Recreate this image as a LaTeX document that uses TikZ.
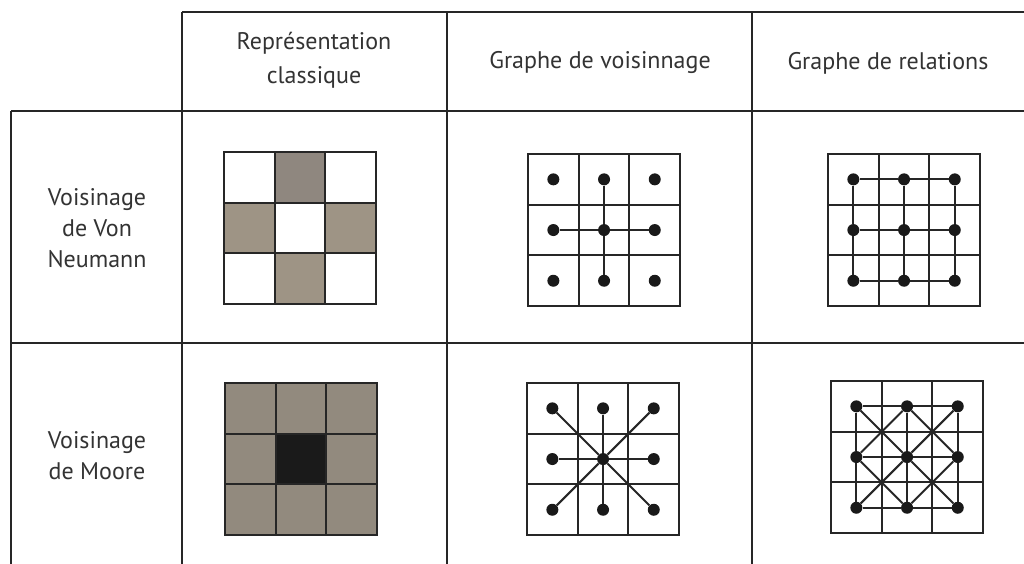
\documentclass[tikz,border=0pt]{standalone}
\usepackage{fontspec}
\setmainfont{PT Sans}
\usepackage{xcolor}
\definecolor{cellgray}{HTML}{9E9485}
\definecolor{cellgraydark}{HTML}{8F877F}
\definecolor{mooregray}{HTML}{928A7E}
\definecolor{centerblack}{HTML}{1A1A1A}
\usepackage{tikz}
\usetikzlibrary{positioning}

\begin{document}
\begin{tikzpicture}[
  x=1pt,y=-1pt,
  tbl/.style={line width=2pt,black!85},
  cellline/.style={line width=2pt,black!85},
  dot/.style={circle,fill=black!90,inner sep=0pt,minimum size=12pt},
  link/.style={line width=2pt,black!85},
  lbl/.style={font=\fontsize{24}{31}\selectfont,align=center,text=black!80},
  hlbl/.style={lbl,font=\fontsize{24}{34}\selectfont},
]
\useasboundingbox[fill=white] (0,0) rectangle (1024,564);

% table
\draw[tbl] (182,12) -- (1024,12);
\draw[tbl] (11,111) -- (1024,111);
\draw[tbl] (11,343) -- (1024,343);
\draw[tbl] (11,111) -- (11,564);
\draw[tbl] (182,12) -- (182,564);
\draw[tbl] (447,12) -- (447,564);
\draw[tbl] (752,12) -- (752,564);

% headers
\node[hlbl] (hclass) at (314,60) {Représentation\\classique};
\node[hlbl] (hvois) at (600,63) {Graphe de voisinnage};
\node[hlbl] (hrel) at (888,63) {Graphe de relations};
\node[lbl] (rvn) at (97,228) {Voisinage\\de Von\\Neumann};
\node[lbl] (rmoore) at (97,456) {Voisinage\\de Moore};

% classique, Von Neumann
\begin{scope}[shift={(224,152)},x=50.7pt,y=-50.7pt]
  \foreach \i in {0,1,2}{
    \foreach \j in {0,1,2}{
      \draw[cellline,fill=white] (\i,\j) rectangle ++(1,1);
    }
  }
  \draw[cellline,fill=cellgraydark] (1,0) rectangle ++(1,1);
  \foreach \i/\j in {0/1,2/1,1/2}{
    \draw[cellline,fill=cellgray] (\i,\j) rectangle ++(1,1);
  }
\end{scope}

% voisinage, Von Neumann
\begin{scope}[shift={(528,154)},x=50.7pt,y=-50.7pt]
  \foreach \i in {0,1,2}{
    \foreach \j in {0,1,2}{
      \draw[cellline] (\i,\j) rectangle ++(1,1);
      \node[dot] (vnA-\i-\j) at (\i+0.5,\j+0.5) {};
    }
  }
  \draw[link] (vnA-1-0) -- (vnA-1-1) -- (vnA-1-2);
  \draw[link] (vnA-0-1) -- (vnA-1-1) -- (vnA-2-1);
\end{scope}

% relations, Von Neumann
\begin{scope}[shift={(828,154)},x=50.7pt,y=-50.7pt]
  \foreach \i in {0,1,2}{
    \foreach \j in {0,1,2}{
      \draw[cellline] (\i,\j) rectangle ++(1,1);
      \node[dot] (vnB-\i-\j) at (\i+0.5,\j+0.5) {};
    }
  }
  \foreach \k in {0,1,2}{
    \draw[link] (vnB-0-\k) -- (vnB-1-\k) -- (vnB-2-\k);
    \draw[link] (vnB-\k-0) -- (vnB-\k-1) -- (vnB-\k-2);
  }
\end{scope}

% classique, Moore
\begin{scope}[shift={(225,383)},x=50.7pt,y=-50.7pt]
  \foreach \i in {0,1,2}{
    \foreach \j in {0,1,2}{
      \draw[cellline,fill=mooregray] (\i,\j) rectangle ++(1,1);
    }
  }
  \draw[cellline,fill=centerblack] (1,1) rectangle ++(1,1);
\end{scope}

% voisinage, Moore
\begin{scope}[shift={(527,383)},x=50.7pt,y=-50.7pt]
  \foreach \i in {0,1,2}{
    \foreach \j in {0,1,2}{
      \draw[cellline] (\i,\j) rectangle ++(1,1);
      \node[dot] (moA-\i-\j) at (\i+0.5,\j+0.5) {};
    }
  }
  \foreach \i/\j in {0/0,1/0,2/0,0/1,2/1,0/2,1/2,2/2}{
    \draw[link] (moA-1-1) -- (moA-\i-\j);
  }
\end{scope}

% relations, Moore
\begin{scope}[shift={(831,381)},x=50.7pt,y=-50.7pt]
  \foreach \i in {0,1,2}{
    \foreach \j in {0,1,2}{
      \draw[cellline] (\i,\j) rectangle ++(1,1);
      \node[dot] (moB-\i-\j) at (\i+0.5,\j+0.5) {};
    }
  }
  \foreach \k in {0,1,2}{
    \draw[link] (moB-0-\k) -- (moB-1-\k) -- (moB-2-\k);
    \draw[link] (moB-\k-0) -- (moB-\k-1) -- (moB-\k-2);
  }
  \foreach \i/\j/\ii/\jj in {0/0/1/1,1/0/2/1,0/1/1/2,1/1/2/2}{
    \draw[link] (moB-\i-\j) -- (moB-\ii-\jj);
    \draw[link] (moB-\ii-\j) -- (moB-\i-\jj);
  }
\end{scope}
\end{tikzpicture}
\end{document}
